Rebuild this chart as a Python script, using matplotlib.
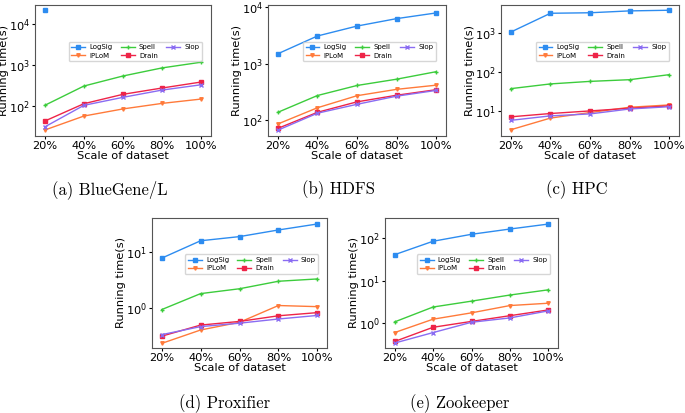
import matplotlib
matplotlib.use("Agg")
import matplotlib.pyplot as plt
import numpy as np

# scale of dataset (x axis)
scales = ["20%", "40%", "60%", "80%", "100%"]
methods = ["LogSig", "IPLoM", "Spell", "Drain", "Slop"]

# running time in seconds (nan = no result)
bgl_logsig = [21500, np.nan, np.nan, np.nan, np.nan]
bgl_iplom = [26, 57, 85, 116, 148]
bgl_spell = [104, 307, 540, 850, 1170]
bgl_drain = [43, 114, 193, 275, 385]
bgl_slop = [31, 104, 163, 245, 330]

hdfs_logsig = [1500, 3100, 4650, 6300, 7950]
hdfs_iplom = [85, 165, 270, 350, 415]
hdfs_spell = [137, 272, 410, 530, 720]
hdfs_drain = [71, 137, 210, 275, 345]
hdfs_slop = [66, 132, 190, 265, 335]

hpc_logsig = [1080, 3300, 3400, 3800, 3950]
hpc_iplom = [3.2, 6.4, 8.9, 12.2, 14]
hpc_spell = [37, 49, 57, 63, 85]
hpc_drain = [6.9, 8.4, 9.8, 11.5, 13.2]
hpc_slop = [5.6, 7.3, 8.2, 11, 12.6]

prox_logsig = [7.8, 16, 19, 25, 32]
prox_iplom = [0.23, 0.40, 0.55, 1.1, 1.05]
prox_spell = [0.93, 1.8, 2.2, 3.0, 3.3]
prox_drain = [0.31, 0.49, 0.57, 0.72, 0.82]
prox_slop = [0.33, 0.46, 0.53, 0.63, 0.73]

zk_logsig = [41, 85, 124, 165, 216]
zk_iplom = [0.6, 1.24, 1.75, 2.6, 2.95]
zk_spell = [1.07, 2.4, 3.3, 4.6, 6.1]
zk_drain = [0.37, 0.8, 1.1, 1.5, 2.05]
zk_slop = [0.34, 0.6, 1.05, 1.33, 1.95]

captions = ["(a) BlueGene/L", "(b) HDFS", "(c) HPC", "(d) Proxifier", "(e) Zookeeper"]

colors = {"LogSig": "#2d8cf0", "IPLoM": "#ff7a3a", "Spell": "#3ccc3c",
          "Drain": "#ee2448", "Slop": "#8a6cf2"}
markers = {"LogSig": "s", "IPLoM": "v", "Spell": "+", "Drain": "s", "Slop": "x"}

panels = [
    [bgl_logsig, bgl_iplom, bgl_spell, bgl_drain, bgl_slop],
    [hdfs_logsig, hdfs_iplom, hdfs_spell, hdfs_drain, hdfs_slop],
    [hpc_logsig, hpc_iplom, hpc_spell, hpc_drain, hpc_slop],
    [prox_logsig, prox_iplom, prox_spell, prox_drain, prox_slop],
    [zk_logsig, zk_iplom, zk_spell, zk_drain, zk_slop],
]
ylims = [(18.6, 2.9e4), (52, 1.1e4), (2.2, 5400), (0.19, 41), (0.26, 300)]

# axes boxes in pixels: left, top, right, bottom
W, H = 685, 413
boxes = [(35, 5, 211, 136), (268, 5, 446, 136), (501, 5, 679, 136),
         (152, 218, 327, 348), (385, 218, 558, 348)]
cap_pos = [(110, 190), (338, 190), (577, 190), (225, 404), (460, 404)]

fig = plt.figure(figsize=(W / 100, H / 100), dpi=100)

for i, data in enumerate(panels):
    l, t, r, b = boxes[i]
    ax = fig.add_axes([l / W, 1 - b / H, (r - l) / W, (b - t) / H])
    x = np.arange(len(scales))
    for name, vals in zip(methods, data):
        ax.plot(x, vals, color=colors[name], marker=markers[name], markersize=2.5,
                linewidth=1, label=name)
    ax.set_yscale("log")
    ax.set_ylim(*ylims[i])
    ax.yaxis.set_minor_locator(matplotlib.ticker.NullLocator())
    ax.set_xticks(x)
    ax.set_xticklabels(scales)
    ax.set_xlim(-0.25, 4.25)
    ax.tick_params(labelsize=8.2, length=2, pad=1.5)
    ax.set_xlabel("Scale of dataset", fontsize=8.2, labelpad=0)
    ax.set_ylabel("Running time(s)", fontsize=8.2, labelpad=0)
    for s in ax.spines.values():
        s.set_color("#555555")
    ax.legend(ncol=3, fontsize=5, loc="center", bbox_to_anchor=(0.57, 0.645),
              handlelength=2, columnspacing=1.2, borderpad=0.4, labelspacing=0.3,
              handletextpad=0.6)
    fig.text(cap_pos[i][0] / W, 1 - cap_pos[i][1] / H, captions[i],
             family="cmr10", fontsize=12, ha="center", va="center")

fig.savefig("out.png", dpi=100)
